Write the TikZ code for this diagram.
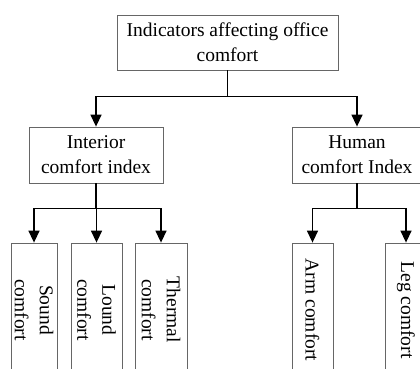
\documentclass[tikz,border=0pt]{standalone}
\usepackage{fontspec}
\setmainfont{Liberation Serif}
\usetikzlibrary{arrows.meta}
\tikzset{
  box/.style={draw=black!60, line width=0.8pt, align=center, inner sep=2pt,
    font=\fontsize{19.5}{25}\selectfont},
  leaf/.style={box, rotate=-90, minimum width=134pt},
  conn/.style={line width=1.4pt, -{Triangle[width=11pt,length=12pt]}}
}
\begin{document}
\begin{tikzpicture}[x=1pt,y=-1pt]
	\path[use as bounding box, clip] (0,0) rectangle (420,369);
	% top
	\node[box, minimum width=221pt, minimum height=55pt] (top) at (227.5,42.5) {Indicators affecting office\\comfort};
	\node[box, minimum width=134pt, minimum height=56pt] (interior) at (96,155) {Interior\\comfort index};
	\node[box, minimum width=130pt, minimum height=56pt] (human) at (357,155) {Human\\comfort Index};
	% leaves
	\node[leaf, minimum height=46pt] (sound) at (34,310) {Sound\\comfort};
	\node[leaf, minimum height=51pt] (loud) at (96.5,310) {Lound\\comfort};
	\node[leaf, minimum height=52pt] (thermal) at (161,310) {Thermal\\comfort};
	\node[leaf, minimum height=41pt] (arm) at (312.5,310) {Arm comfort};
	\node[leaf, minimum height=41pt] (leg) at (406,310) {Leg comfort};
	% connectors
	\draw[line width=1.4pt] (top.south) -- ++(0,26) coordinate (tb);
	\draw[conn] (tb) -| (interior.north);
	\draw[conn] (tb) -| (human.north);
	\draw[line width=1.4pt] (interior.south) -- ++(0,25) coordinate (ib);
	\foreach \n in {sound,loud,thermal}
		\draw[conn] (ib) -| (\n.west);
	\draw[line width=1.4pt] (human.south) -- ++(0,25) coordinate (hb);
	\foreach \n in {arm,leg}
		\draw[conn] (hb) -| (\n.west);
\end{tikzpicture}
\end{document}
